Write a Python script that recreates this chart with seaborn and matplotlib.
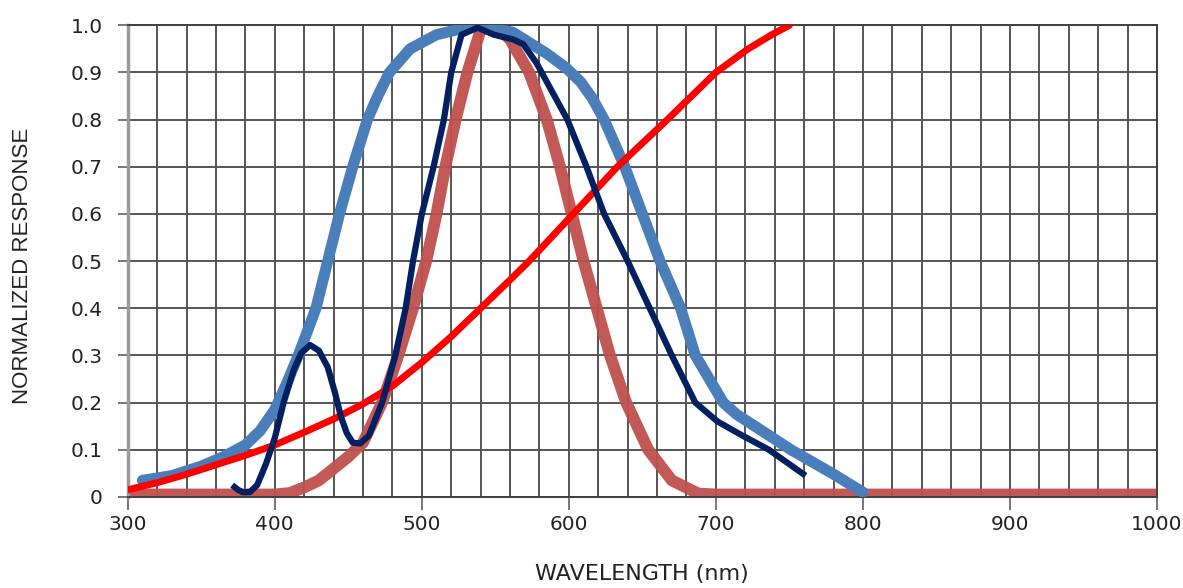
import numpy as np
import pandas as pd
import seaborn as sns
import matplotlib.pyplot as plt
from matplotlib.ticker import MultipleLocator, FuncFormatter

sns.set_style('white')
plt.rcParams['font.family'] = ['DejaVu Sans']

# photopic-like response (thick brown-red)
brown_nm = [300, 400, 410, 420, 430, 440, 450, 460, 473, 484, 494, 503, 510, 516, 523, 531, 540, 550,
            560, 573, 585, 594, 602, 610, 619, 628, 639, 654, 670, 688, 700, 1000]
brown_val = [0.005, 0.005, 0.008, 0.02, 0.035, 0.06, 0.085, 0.115, 0.20, 0.30, 0.40, 0.50, 0.60, 0.70,
             0.80, 0.90, 0.99, 1.0, 0.97, 0.90, 0.80, 0.70, 0.60, 0.50, 0.40, 0.30, 0.20, 0.10, 0.035,
             0.007, 0.005, 0.005]

# light blue broad response
blue_nm = [310, 330, 350, 365, 380, 390, 400, 408, 416, 428, 436, 444, 453, 463, 470, 478, 492, 510,
           537, 562, 585, 598, 608, 616, 624, 638, 650, 662, 676, 686, 705, 714, 724, 751, 779, 800]
blue_val = [0.035, 0.045, 0.065, 0.085, 0.11, 0.14, 0.185, 0.24, 0.30, 0.40, 0.50, 0.60, 0.70, 0.80,
            0.85, 0.90, 0.95, 0.98, 1.0, 0.985, 0.94, 0.91, 0.88, 0.845, 0.80, 0.70, 0.60, 0.50, 0.40,
            0.30, 0.20, 0.175, 0.155, 0.10, 0.05, 0.01]

# red rising response
red_nm = [300, 320, 340, 360, 380, 400, 420, 440, 460, 480, 500, 520, 540, 560, 573, 603, 633, 667,
          700, 722, 738, 750]
red_val = [0.015, 0.03, 0.048, 0.068, 0.088, 0.11, 0.137, 0.165, 0.197, 0.235, 0.285, 0.34, 0.40, 0.46,
           0.50, 0.60, 0.70, 0.80, 0.90, 0.95, 0.98, 1.0]

# navy sensor response
navy_nm = [371, 375, 378, 383, 388, 394, 400, 406, 413, 418, 424, 430, 436, 441, 445, 449, 453, 458,
           464, 473, 482, 489, 494, 500, 508, 515, 520, 527, 538, 549, 562, 569, 578, 599, 612, 624,
           640, 655, 670, 686, 701, 718, 736, 761]
navy_val = [0.025, 0.015, 0.01, 0.01, 0.025, 0.07, 0.125, 0.20, 0.27, 0.305, 0.322, 0.31, 0.275, 0.22,
            0.17, 0.135, 0.115, 0.113, 0.13, 0.20, 0.30, 0.40, 0.50, 0.60, 0.70, 0.80, 0.90, 0.98,
            0.995, 0.98, 0.97, 0.96, 0.92, 0.80, 0.70, 0.60, 0.50, 0.40, 0.30, 0.20, 0.16, 0.13, 0.10,
            0.045]

fig = plt.figure(figsize=(11.83, 5.88), dpi=100)
ax = fig.add_axes([0.108, 0.155, 0.870, 0.802])

sns.lineplot(x=brown_nm, y=brown_val, ax=ax, color='#c0504d', lw=8.5, alpha=0.95,
             sort=False, estimator=None, solid_capstyle='butt', solid_joinstyle='round', zorder=2)
sns.lineplot(x=blue_nm, y=blue_val, ax=ax, color='#4a7ebb', lw=8.0,
             sort=False, estimator=None, solid_capstyle='round', solid_joinstyle='round', zorder=3)
sns.lineplot(x=red_nm, y=red_val, ax=ax, color='#ff0000', lw=5.0,
             sort=False, estimator=None, solid_capstyle='round', solid_joinstyle='round', zorder=4)
sns.lineplot(x=navy_nm, y=navy_val, ax=ax, color='#002060', lw=4.5,
             sort=False, estimator=None, solid_capstyle='butt', solid_joinstyle='round', zorder=5)

ax.set_xlim(300, 1000)
ax.set_ylim(0, 1.0)
ax.xaxis.set_major_locator(MultipleLocator(100))
ax.xaxis.set_minor_locator(MultipleLocator(20))
ax.yaxis.set_major_locator(MultipleLocator(0.1))
ax.yaxis.set_major_formatter(FuncFormatter(lambda v, p: '0' if abs(v) < 1e-9 else f'{v:.1f}'))

ax.grid(which='both', axis='x', color='#555555', lw=1.4, zorder=0)
ax.grid(which='major', axis='y', color='#555555', lw=1.4, zorder=0)
ax.set_axisbelow(True)

ax.tick_params(axis='x', which='major', length=9, width=1.2, color='#606060', pad=4,
               labelsize=14.5, labelcolor='#222222', direction='out', bottom=True)
ax.tick_params(axis='x', which='minor', length=0)
ax.tick_params(axis='y', which='major', length=7, width=1.2, color='#606060', pad=11,
               labelsize=14.5, labelcolor='#222222', direction='out', left=True)

for side in ['top', 'right', 'bottom']:
    ax.spines[side].set_color('#404040')
    ax.spines[side].set_linewidth(1.4)
ax.spines['left'].set_color('#9a9a9a')
ax.spines['left'].set_linewidth(2.5)

ax.set_xlabel('WAVELENGTH (nm)', fontsize=16, color='#222222', labelpad=22)
ax.set_ylabel('NORMALIZED RESPONSE', fontsize=16, color='#222222', labelpad=18,
              family='Liberation Sans')
ax.yaxis.set_label_coords(-0.092, 0.49)

fig.savefig('out.png', dpi=100)
